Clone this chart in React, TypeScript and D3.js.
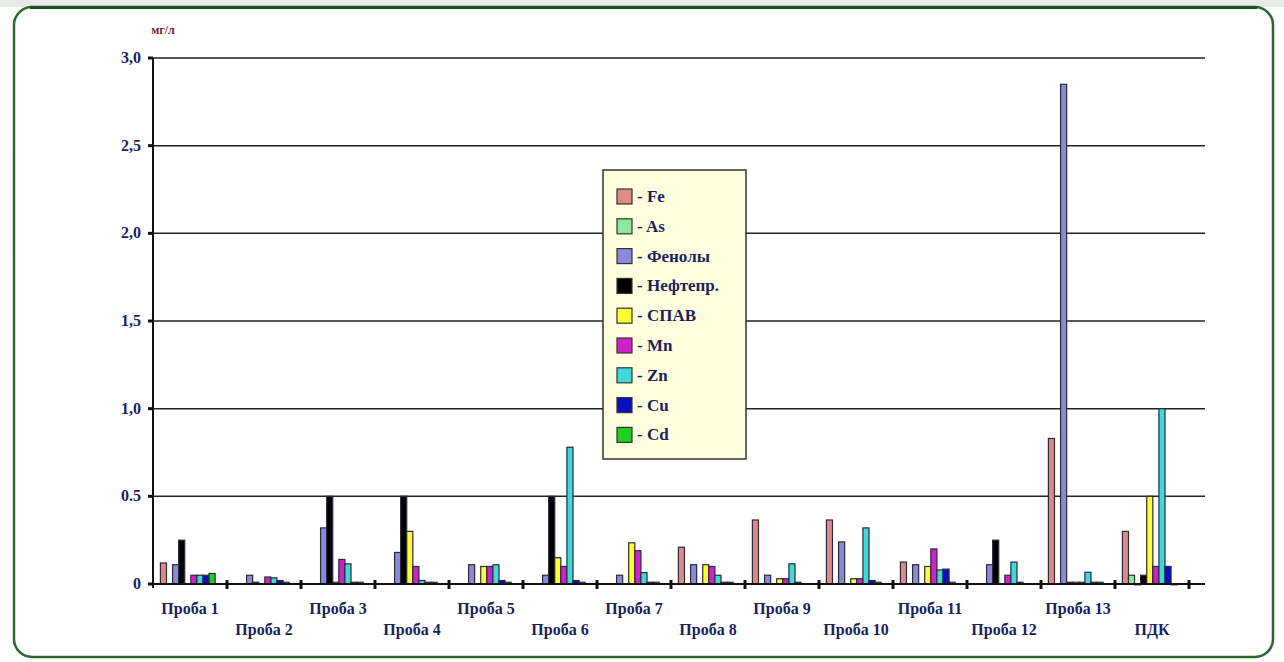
import * as d3 from "d3";

const categories = [
  "Проба 1", "Проба 2", "Проба 3", "Проба 4", "Проба 5", "Проба 6", "Проба 7",
  "Проба 8", "Проба 9", "Проба 10", "Проба 11", "Проба 12", "Проба 13", "ПДК",
];

const series = ["Fe", "As", "Фенолы", "Нефтепр.", "СПАВ", "Mn", "Zn", "Cu", "Cd"];
const seriesColors = ["#e08a86", "#8fe89a", "#8a8ada", "#000000", "#ffff33", "#d020c8", "#40d8d8", "#0a10c0", "#20d020"];

// values per sample, in series order
const fe = [0.12, 0, 0, 0, 0, 0, 0, 0.21, 0.365, 0.365, 0.125, 0, 0.83, 0.3];
const as = [0, 0, 0, 0, 0, 0, 0, 0, 0, 0, 0, 0, 0, 0.05];
const phenols = [0.11, 0.05, 0.32, 0.18, 0.11, 0.05, 0.05, 0.11, 0.05, 0.24, 0.11, 0.11, 2.85, 0.001];
const oil = [0.25, 0.01, 0.5, 0.5, 0, 0.5, 0, 0, 0, 0, 0, 0.25, 0.01, 0.05];
const spav = [0, 0, 0.01, 0.3, 0.1, 0.15, 0.235, 0.11, 0.03, 0.03, 0.1, 0, 0.01, 0.5];
const mn = [0.05, 0.04, 0.14, 0.1, 0.1, 0.1, 0.19, 0.1, 0.03, 0.03, 0.2, 0.05, 0.01, 0.1];
const zn = [0.05, 0.035, 0.115, 0.02, 0.11, 0.78, 0.065, 0.05, 0.115, 0.32, 0.08, 0.125, 0.067, 1.0];
const cu = [0.05, 0.02, 0.01, 0.01, 0.02, 0.02, 0.01, 0.01, 0.01, 0.02, 0.085, 0.01, 0.01, 0.1];
const cd = [0.06, 0.01, 0.01, 0.01, 0.01, 0.01, 0.01, 0.01, 0, 0.01, 0.01, 0, 0.01, 0.001];
const seriesValues = [fe, as, phenols, oil, spav, mn, zn, cu, cd];

const yTicks = [0, 0.5, 1.0, 1.5, 2.0, 2.5, 3.0];
const yTickLabels = ["0", "0.5", "1,0", "1,5", "2,0", "2,5", "3,0"];

const W = 1284;
const H = 662;
const left = 153;
const right = 1189;
const gridRight = 1205;
const top = 58;
const bottom = 584;
const serif = "'Liberation Serif', 'Times New Roman', serif";
const navy = "#1c1f5c";

export default function App() {
  const x0 = d3.scaleBand<string>().domain(categories).range([left, right]).padding(0);
  const bw = x0.bandwidth();
  const x1 = d3.scaleBand<string>().domain(series).range([bw * 0.1, bw * 0.84]).padding(0);
  const y = d3.scaleLinear().domain([0, 3]).range([bottom, top]);

  return (
    <svg
      width={W}
      height={H}
      style={{ position: "absolute", left: 0, top: 0, display: "block", background: "#fff" }}
    >
      <rect x={0} y={0} width={W} height={7} fill="#e6ebe8" />
      <rect x={14} y={7} width={1259} height={650} rx={18} fill="#fff" stroke="#2e6630" strokeWidth={2.5} />
      <line x1={30} x2={1257} y1={7.5} y2={7.5} stroke="#1f4f22" strokeWidth={3} />

      {/* unit */}
      <text x={163} y={34} textAnchor="middle" fontFamily={serif} fontWeight="bold" fontSize={12} fill="#7a1e1e">
        мг/л
      </text>

      {/* gridlines */}
      {yTicks.slice(1).map((t) => (
        <line key={t} x1={left} x2={gridRight} y1={y(t)} y2={y(t)} stroke="#222" strokeWidth={1.5} />
      ))}

      {/* y ticks and labels */}
      {yTicks.map((t, i) => (
        <g key={"yt" + t}>
          <line x1={left - 5} x2={left} y1={y(t)} y2={y(t)} stroke="#111" strokeWidth={3} />
          <text
            x={141}
            y={y(t) + 5}
            textAnchor="end"
            fontFamily={serif}
            fontWeight="bold"
            fontSize={16}
            fill={navy}
          >
            {yTickLabels[i]}
          </text>
        </g>
      ))}

      {/* bars */}
      {categories.map((c, ci) => (
        <g key={c} transform={`translate(${x0(c)},0)`}>
          {series.map((s, si) => {
            const v = seriesValues[si][ci];
            if (!v) return null;
            const yt = y(v);
            return (
              <rect
                key={s}
                x={x1(s)}
                y={yt}
                width={x1.bandwidth()}
                height={Math.max(bottom - yt, 1)}
                fill={seriesColors[si]}
                stroke="#2a2a3a"
                strokeWidth={1.2}
              />
            );
          })}
        </g>
      ))}

      {/* axes */}
      <line x1={left} x2={left} y1={top} y2={bottom + 4} stroke="#111" strokeWidth={2} />
      <line x1={left} x2={gridRight} y1={bottom} y2={bottom} stroke="#111" strokeWidth={2} />
      {categories.map((c) => (
        <line key={"xt" + c} x1={(x0(c) ?? 0) + bw} x2={(x0(c) ?? 0) + bw} y1={bottom - 4} y2={bottom + 5} stroke="#111" strokeWidth={3} />
      ))}

      {/* x labels, staggered */}
      {categories.map((c, ci) => (
        <text
          key={"xl" + c}
          x={(x0(c) ?? 0) + bw / 2}
          y={ci % 2 === 0 ? 614 : 635}
          textAnchor="middle"
          fontFamily={serif}
          fontWeight="bold"
          fontSize={16}
          fill={navy}
        >
          {c}
        </text>
      ))}

      {/* legend */}
      <g transform="translate(603,170)">
        <rect x={0} y={0} width={143} height={289} fill="#ffffe0" stroke="#333" strokeWidth={1.5} />
        {series.map((s, i) => (
          <g key={"lg" + s} transform={`translate(14,${19 + i * 29.8})`}>
            <rect x={0} y={0} width={15} height={15} fill={seriesColors[i]} stroke="#333" strokeWidth={1.2} />
            <text x={20} y={13} fontFamily={serif} fontWeight="bold" fontSize={17} fill={navy}>
              {"- " + s}
            </text>
          </g>
        ))}
      </g>
    </svg>
  );
}
